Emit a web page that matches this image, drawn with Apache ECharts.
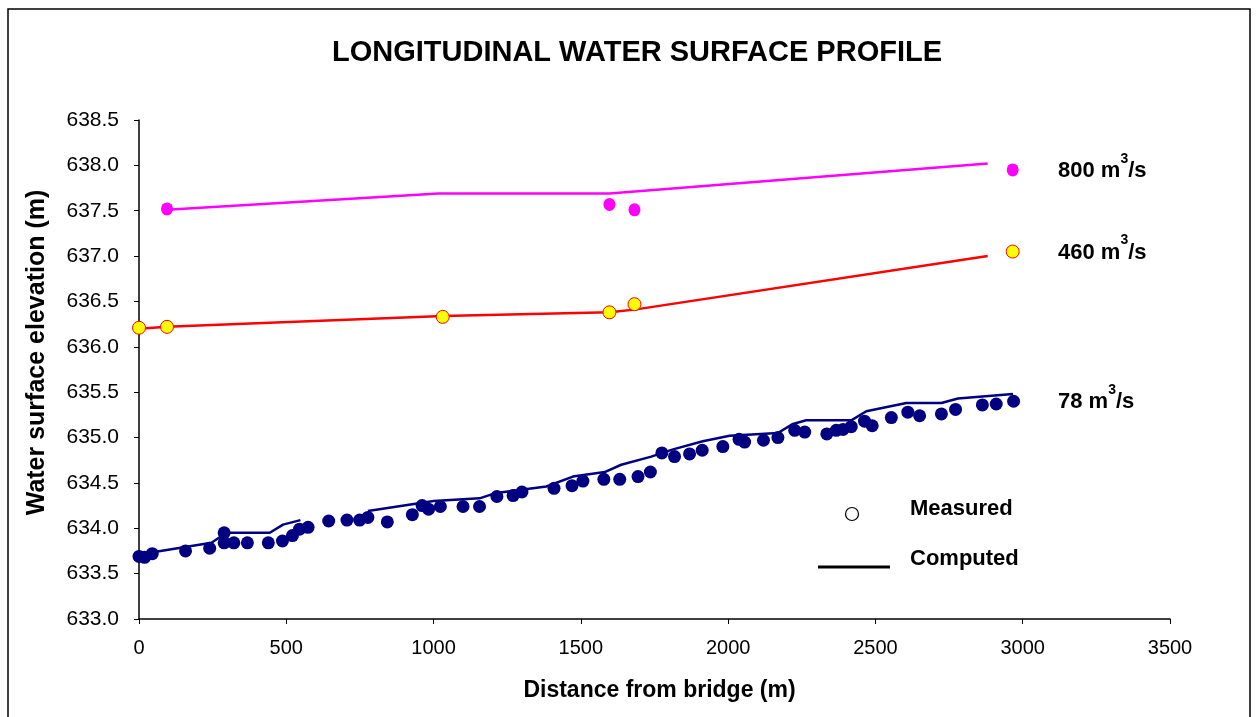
<!DOCTYPE html>
<html>
<head>
<meta charset="utf-8">
<script src="https://cdn.jsdelivr.net/npm/echarts@6/dist/echarts.min.js"></script>
<style>
html,body{margin:0;padding:0;background:#fff;}
#chart{width:1258px;height:717px;}
</style>
</head>
<body>
<div id="chart"></div>
<script>
// ---- data ----
var xTicks = [0, 500, 1000, 1500, 2000, 2500, 3000, 3500];
var yTicks = [633.0, 633.5, 634.0, 634.5, 635.0, 635.5, 636.0, 636.5, 637.0, 637.5, 638.0, 638.5];

var meas800X = [95, 1597, 1682, 2966];
var meas800Y = [637.52, 637.57, 637.51, 637.95];
var comp800X = [95, 1017, 1597, 2881];
var comp800Y = [637.51, 637.69, 637.69, 638.02];

var meas460X = [0, 95, 1031, 1597, 1682, 2966];
var meas460Y = [636.21, 636.22, 636.33, 636.38, 636.47, 637.05];
var comp460X = [0, 95, 1031, 1597, 1682, 2881];
var comp460Y = [636.20, 636.22, 636.34, 636.38, 636.41, 637.00];

var meas78X = [0, 19, 45, 158, 240, 289, 289, 322, 368, 439, 487, 521, 545, 574, 644, 706, 749, 777, 843, 928,
  961, 983, 1023, 1100, 1156, 1215, 1270, 1300, 1409, 1470, 1507, 1578, 1632, 1694, 1736, 1775, 1818, 1869, 1912, 1982,
  2037, 2056, 2120, 2169, 2226, 2260, 2335, 2367, 2390, 2418, 2463, 2489, 2554, 2610, 2650, 2724, 2772, 2863, 2910, 2969];
var meas78Y = [633.69, 633.68, 633.72, 633.75, 633.78, 633.95, 633.84, 633.84, 633.84, 633.84, 633.86, 633.92, 633.99, 634.01, 634.08, 634.09, 634.09, 634.12, 634.07, 634.15,
  634.25, 634.21, 634.24, 634.24, 634.24, 634.35, 634.36, 634.40, 634.44, 634.47, 634.52, 634.54, 634.54, 634.57, 634.62, 634.83, 634.79, 634.82, 634.86, 634.90,
  634.98, 634.95, 634.97, 635.00, 635.08, 635.06, 635.04, 635.08, 635.09, 635.12, 635.18, 635.13, 635.22, 635.28, 635.24, 635.26, 635.31, 635.36, 635.37, 635.40];

// computed 78: two segments (null = gap)
var comp78X = [0, 246, 297, 444, 489, 548, 650, 777, 1000, 1156, 1213, 1383, 1473, 1581, 1637, 1739, 1813, 1914, 2005, 2169, 2220, 2265, 2418, 2469, 2605, 2724, 2780, 2967];
var comp78Y = [633.71, 633.84, 633.95, 633.95, 634.04, 634.09, null, 634.19, 634.30, 634.33, 634.39, 634.46, 634.57, 634.62, 634.70, 634.79, 634.87, 634.96, 635.02, 635.05, 635.15, 635.19, 635.19, 635.29, 635.38, 635.38, 635.43, 635.48];

var seriesLabels = [
  {q: '800', y: 637.95},
  {q: '460', y: 637.05},
  {q: '78', y: 635.40}
];

function zip(xs, ys) {
  return xs.map(function (x, i) { return [x, ys[i]]; });
}

var FONT = '"Liberation Sans", Arial, sans-serif';
var chart = echarts.init(document.getElementById('chart'));

var option = {
  animation: false,
  backgroundColor: '#fff',
  title: {
    text: 'LONGITUDINAL WATER SURFACE PROFILE',
    left: 632, top: 33, textAlign: 'center',
    textStyle: {fontFamily: FONT, fontWeight: 'bold', fontSize: 29, color: '#000'}
  },
  grid: {left: 139, right: 88, top: 120, bottom: 98, containLabel: false},
  xAxis: {
    type: 'value', min: 0, max: 3500, interval: 500,
    name: 'Distance from bridge (m)', nameLocation: 'middle', nameGap: 60,
    nameTextStyle: {fontFamily: FONT, fontWeight: 'bold', fontSize: 23, color: '#000', padding: [0, 0, 0, 10]},
    axisLine: {show: true, lineStyle: {color: '#000', width: 1.5}},
    axisTick: {show: true, length: 5, lineStyle: {color: '#000'}},
    axisLabel: {fontFamily: FONT, fontSize: 20, color: '#000', margin: 19,
      formatter: function (v) { return xTicks.indexOf(v) >= 0 ? String(v) : ''; }},
    splitLine: {show: false}
  },
  yAxis: {
    type: 'value', min: 633, max: 638.5, interval: 0.5,
    name: 'Water surface elevation (m)', nameLocation: 'middle', nameGap: 89,
    nameTextStyle: {fontFamily: FONT, fontWeight: 'bold', fontSize: 25, color: '#000', padding: [0, 0, 0, 34]},
    axisLine: {show: true, lineStyle: {color: '#000', width: 1.5}},
    axisTick: {show: true, length: 5, lineStyle: {color: '#000'}},
    axisLabel: {fontFamily: FONT, fontSize: 21, color: '#000', margin: 20,
      formatter: function (v) { return v.toFixed(1); }},
    splitLine: {show: false}
  },
  series: [
    {type: 'line', data: zip(comp800X, comp800Y), symbol: 'none', lineStyle: {color: '#FF00FF', width: 2.5}, z: 2},
    {type: 'line', data: zip(comp460X, comp460Y), symbol: 'none', lineStyle: {color: '#FF0000', width: 2.5}, z: 2},
    {type: 'line', data: zip(comp78X, comp78Y), symbol: 'none', connectNulls: false, lineStyle: {color: '#000080', width: 2.5}, z: 2},
    {type: 'scatter', data: zip(meas800X, meas800Y), symbol: 'circle', symbolSize: [12, 13], itemStyle: {color: '#FF00FF', opacity: 1}, z: 3},
    {type: 'scatter', data: zip(meas460X, meas460Y), symbol: 'circle', symbolSize: 13, itemStyle: {color: '#FFFF00', borderColor: '#FF0000', borderWidth: 1, opacity: 1}, z: 3},
    {type: 'scatter', data: zip(meas78X, meas78Y), symbol: 'circle', symbolSize: 13, itemStyle: {color: '#000080', opacity: 1}, z: 3}
  ],
  graphic: []
};

chart.setOption(option);

// series labels positioned from data values via the chart's own scale
var gfx = [];
seriesLabels.forEach(function (s) {
  var p = chart.convertToPixel({gridIndex: 0}, [0, s.y]);
  gfx.push({
    type: 'text', x: 1058, y: p[1] - 3,
    style: {
      verticalAlign: 'middle',
      rich: {
        a: {fontFamily: FONT, fontWeight: 'bold', fontSize: 22, fill: '#000', lineHeight: 30, verticalAlign: 'bottom'},
        s: {fontFamily: FONT, fontWeight: 'bold', fontSize: 14, fill: '#000', lineHeight: 30, verticalAlign: 'top'}
      },
      text: '{a|' + s.q + ' m}{s|3}{a|/s}'
    }
  });
});
// key
gfx.push({type: 'circle', shape: {cx: 852, cy: 514, r: 6.5}, style: {fill: '#fff', stroke: '#000', lineWidth: 1.2}});
gfx.push({type: 'line', shape: {x1: 818, y1: 567, x2: 890, y2: 567}, style: {stroke: '#000', lineWidth: 3}});
gfx.push({type: 'text', x: 910, y: 509, style: {text: 'Measured', font: 'bold 22px ' + FONT, fill: '#000', verticalAlign: 'middle'}});
gfx.push({type: 'text', x: 910, y: 559, style: {text: 'Computed', font: 'bold 22px ' + FONT, fill: '#000', verticalAlign: 'middle'}});
// outer chart frame
gfx.push({type: 'rect', shape: {x: 8, y: 9, width: 1242, height: 730}, style: {fill: 'none', stroke: '#000', lineWidth: 1.5}, silent: true});

chart.setOption({graphic: gfx});
</script>
</body>
</html>
